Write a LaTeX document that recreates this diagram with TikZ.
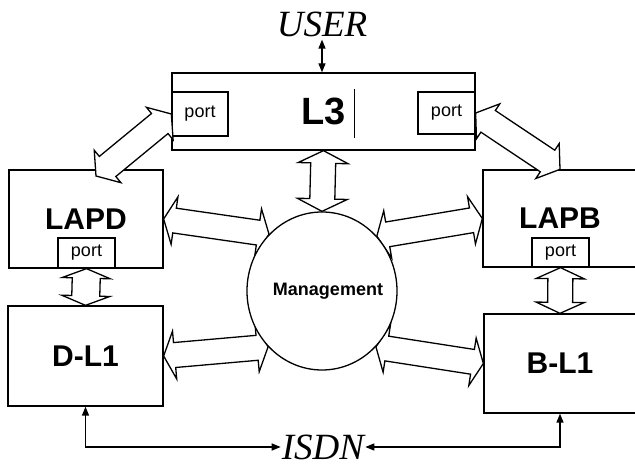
\documentclass[tikz,border=0pt]{standalone}
\usepackage{fontspec}
\setmainfont{Liberation Serif}
\setsansfont{Liberation Sans}
\usetikzlibrary{calc,arrows.meta,shapes.geometric}
\pgfdeclarelayer{bg}
\pgfdeclarelayer{mid}
\pgfsetlayers{bg,mid,main}
\newcommand\dblblock[5]{%
 \draw[blockarrow] (#1)
  -- ($(#1)!#3!(#2)!#4!90:(#2)$)
  -- ($(#1)!#3!(#2)!#5!90:(#2)$)
  -- ($(#2)!#3!(#1)!#5!-90:(#1)$)
  -- ($(#2)!#3!(#1)!#4!-90:(#1)$)
  -- (#2)
  -- ($(#2)!#3!(#1)!#4!90:(#1)$)
  -- ($(#2)!#3!(#1)!#5!90:(#1)$)
  -- ($(#1)!#3!(#2)!#5!-90:(#2)$)
  -- ($(#1)!#3!(#2)!#4!-90:(#2)$)
  -- cycle;}
\begin{document}
\begin{tikzpicture}[x=1pt,y=-1pt,
  box/.style={draw,line width=1.3pt,fill=white,rectangle,inner sep=0pt},
  lab/.style={font=\sffamily\bfseries\fontsize{30pt}{30pt}\selectfont},
  biglab/.style={font=\sffamily\bfseries\fontsize{38pt}{38pt}\selectfont},
  portbox/.style={draw,line width=1.3pt,fill=white,inner sep=0pt,font=\sffamily\fontsize{18pt}{18pt}\selectfont},
  mlab/.style={font=\sffamily\bfseries\fontsize{18pt}{18pt}\selectfont,inner sep=0pt},
  blockarrow/.style={draw,fill=white,line width=1.3pt,line join=miter},
  thinarr/.style={line width=1.3pt,{Triangle[length=9pt,width=7pt]}-{Triangle[length=9pt,width=7pt]}},
  ital/.style={font=\itshape\fontsize{37pt}{37pt}\selectfont,inner sep=3pt}]
\useasboundingbox (0,0) rectangle (635,470);
\clip (0,0) rectangle (635,470);

\begin{pgfonlayer}{bg}
\fill[white] (0,0) rectangle (635,470);
\node[box,biglab,minimum width=303pt,minimum height=77pt] (l3) at (323.5,111.5) {L3};
\node[box,lab,minimum width=154pt,minimum height=98pt] (lapd) at (86,219) {LAPD};
\node[box,lab,minimum width=155pt,minimum height=100pt] (dl1) at (85.5,356) {D-L1};
\node[box,lab,minimum width=154pt,minimum height=97pt] (lapb) at (560,218.5) {LAPB};
\node[box,lab,minimum width=152pt,minimum height=99pt] (bl1) at (560,363.5) {B-L1};
\node[portbox,minimum width=57pt,minimum height=30pt] (lapdport) at (86.5,253) {port};
\node[portbox,minimum width=57pt,minimum height=29pt] (lapbport) at (560.5,252.5) {port};
\node[portbox,minimum width=56pt,minimum height=44pt] (l3pl) at (200,114) {port};
\node[portbox,minimum width=57pt,minimum height=42pt] (l3pr) at (446.5,113) {port};
\draw[line width=0.8pt] (354.5,89) -- (354.5,138);
\end{pgfonlayer}

\node[draw,ellipse,fill=white,line width=1.3pt,minimum width=150pt,minimum height=158pt,inner sep=0pt] (mgmt) at (322,291) {};
\node[mlab] (mgmttext) at (328,291) {Management};

\coordinate (c1) at (96,176);

\begin{pgfonlayer}{mid}
\dblblock{l3pl.west}{c1}{15pt}{21pt}{13pt}
\dblblock{l3pr.east}{lapb.north}{15pt}{21pt}{13pt}
\dblblock{l3.south}{mgmt.north}{12.5pt}{25pt}{12.5pt}
\dblblock{lapd.east}{mgmt.133}{11pt}{24pt}{12.5pt}
\dblblock{mgmt.45}{lapb.west}{11pt}{24pt}{12.5pt}
\dblblock{dl1.east}{mgmt.226}{11pt}{24pt}{12.5pt}
\dblblock{mgmt.314}{bl1.west}{11pt}{24pt}{12.5pt}
\dblblock{lapdport.south}{dl1.north}{9.5pt}{24pt}{14pt}
\dblblock{lapbport.south}{bl1.north}{11pt}{24pt}{12.5pt}
\end{pgfonlayer}

\node[ital] (user) at (322,24) {USER};
\node[ital,inner sep=1pt] (isdn) at (323,447) {ISDN};
\draw[thinarr] (user.south) -- (user.south |- l3.north);
\draw[thinarr] (dl1.south) |- (isdn.west);
\draw[thinarr] (bl1.south) |- (isdn.east);
\end{tikzpicture}
\end{document}
